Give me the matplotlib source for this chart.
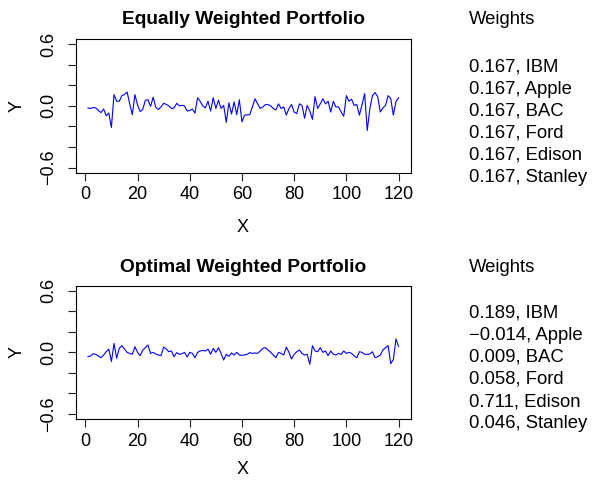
import numpy as np
import matplotlib
matplotlib.use("Agg")
import matplotlib.pyplot as plt

plt.rcParams['font.family'] = ['Liberation Sans', 'DejaVu Sans']

equal_returns = [
    -0.02, -0.025, -0.015, -0.02, -0.045, -0.065, -0.03, -0.095, -0.07, -0.21,
    0.11, 0.045, 0.045, 0.10, 0.11, 0.135, 0.02, -0.085, 0.11, 0.01,
    -0.055, -0.035, 0.055, 0.06, -0.005, 0.085, -0.015, -0.035, -0.01, 0.025,
    0.015, 0.0, -0.025, -0.02, 0.025, 0.0, 0.005, 0.0, -0.05, -0.045,
    -0.03, -0.07, 0.08, 0.045, 0.0, -0.02, 0.045, -0.05, 0.08, -0.025,
    0.055, -0.025, 0.005, -0.16, 0.03, -0.08, 0.04, -0.085, 0.06, -0.155,
    -0.09, -0.087, -0.085, -0.01, 0.07, 0.02, -0.025, -0.01, 0.013, 0.013,
    0.0, -0.025, -0.04, 0.02, -0.025, -0.01, -0.09, -0.025, 0.013, -0.06,
    -0.075, 0.02, 0.005, -0.12, 0.005, -0.05, -0.13, 0.09, -0.025, 0.02,
    0.07, 0.02, 0.045, -0.06, 0.045, -0.01, -0.01, -0.06, -0.1, 0.1,
    0.045, 0.065, 0.005, 0.013, -0.09, 0.013, 0.12, -0.24, -0.025, 0.1,
    0.13, 0.09, -0.06, -0.02, 0.005, 0.1, 0.07, -0.09, 0.04, 0.08,
]

optimal_returns = [
    -0.042, -0.036, -0.013, -0.019, -0.036, -0.052, -0.026, 0.006, 0.032, -0.09,
    0.087, -0.058, 0.039, 0.065, 0.032, 0.0, -0.01, -0.019, 0.055, 0.0,
    -0.032, 0.023, 0.045, 0.071, -0.01, 0.0, -0.016, -0.026, -0.032, 0.052,
    0.032, 0.006, 0.013, -0.042, -0.003, -0.019, -0.013, 0.0, -0.045, 0.0,
    -0.01, -0.052, 0.0, 0.013, 0.019, 0.013, 0.032, -0.019, 0.039, 0.0,
    0.045, -0.01, -0.075, -0.019, -0.039, -0.006, -0.026, 0.0, -0.026, -0.029,
    -0.026, -0.019, -0.003, -0.01, -0.006, -0.01, 0.013, 0.039, 0.045, 0.023,
    0.0, -0.026, -0.052, 0.0, -0.01, -0.026, 0.052, 0.0, -0.065, -0.019,
    0.006, 0.023, -0.01, -0.026, -0.019, -0.117, 0.065, 0.013, 0.006, 0.045,
    0.0, 0.013, -0.032, 0.013, -0.019, -0.026, -0.01, -0.019, 0.013, -0.01,
    0.0, -0.01, -0.036, -0.052, 0.006, 0.0, -0.019, -0.019, -0.016, 0.006,
    -0.052, -0.042, -0.026, 0.023, 0.045, 0.065, -0.11, -0.07, 0.13, 0.055,
]

assets = ["IBM", "Apple", "BAC", "Ford", "Edison", "Stanley"]
equal_weights = ["0.167", "0.167", "0.167", "0.167", "0.167", "0.167"]
optimal_weights = ["0.189", "\u22120.014", "0.009", "0.058", "0.711", "0.046"]

titles = ["Equally Weighted Portfolio", "Optimal Weighted Portfolio"]
x_ticks = [0, 20, 40, 60, 80, 100, 120]
y_ticks = [-0.6, -0.4, -0.2, 0.0, 0.2, 0.4, 0.6]
y_labels = ["\u22120.6", "", "", "0.0", "", "", "0.6"]

W, H = 592, 480
fig = plt.figure(figsize=(W / 100, H / 100), dpi=100)

FS_TICK = 13
FS_TITLE = 13.8
FS_RIGHT = 13.3

panels = [
    (equal_returns, equal_weights, titles[0], 39.3, 172.5, 20, [67, 89, 111, 133, 155, 178], 228),
    (optimal_returns, optimal_weights, titles[1], 285.7, 419.0, 268, [313, 335, 357, 379, 402, 424], 470),
]

left_px, right_px = 75.5, 411.0
for series, weights, title, top_px, bot_px, wy, wys, xlab_y in panels:
    ax = fig.add_axes([left_px / W, 1 - bot_px / H, (right_px - left_px) / W, (bot_px - top_px) / H])
    x = np.arange(1, len(series) + 1)
    ax.plot(x, series, color='#0000FF', linewidth=0.8)
    n = len(series)
    pad = (n - 1) * 0.04
    ax.set_xlim(1 - pad, n + pad)
    ax.set_ylim(-0.6 - 0.048, 0.6 + 0.048)
    ax.set_xticks(x_ticks)
    ax.set_xticklabels([str(t) for t in x_ticks])
    ax.set_yticks(y_ticks)
    ax.set_yticklabels(y_labels, rotation=90, va='center')
    ax.tick_params(axis='both', labelsize=FS_TICK, length=5.5, width=0.8, color='#222222')
    ax.tick_params(axis='x', pad=4.5)
    ax.tick_params(axis='y', pad=8)
    for s in ax.spines.values():
        s.set_linewidth(0.8)
    cy = (top_px + bot_px) / 2
    fig.text(243 / W, 1 - wy / H, title, ha='center', va='center', fontsize=FS_TITLE, fontweight='bold')
    fig.text(17 / W, 1 - cy / H, "Y", ha='center', va='center', rotation=90, fontsize=FS_TICK)
    fig.text(243 / W, 1 - xlab_y / H, "X", ha='center', va='center', fontsize=FS_TICK)
    fig.text(469 / W, 1 - wy / H, "Weights", ha='left', va='center', fontsize=FS_RIGHT)
    for w, a, yy in zip(weights, assets, wys):
        fig.text(469 / W, 1 - yy / H, f"{w}, {a}", ha='left', va='center', fontsize=FS_RIGHT)

fig.savefig("out.png", dpi=100)
